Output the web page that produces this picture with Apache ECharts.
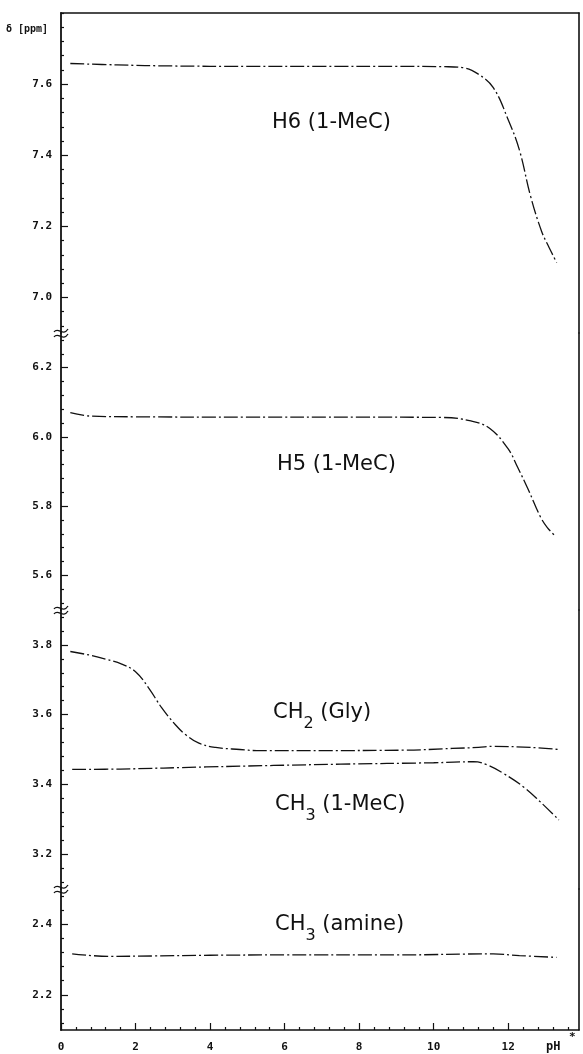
<!DOCTYPE html>
<html>
<head>
<meta charset="utf-8">
<title>Chemical shift vs pH*</title>
<script src="https://cdn.jsdelivr.net/npm/echarts@6.0.0/dist/echarts.min.js"></script>
<style>
html, body { margin: 0; padding: 0; background: #fff; }
#main { width: 583px; height: 1054px; }
</style>
</head>
<body>
<div id="main"></div>
<script>
// values (pH* -> delta in ppm)
var phH6 = [0.25, 1.5, 3, 5, 7, 9, 10.3, 10.8, 11.2, 11.6, 12.0, 12.3, 12.6, 12.9, 13.1, 13.3];
var shiftH6 = [7.658, 7.654, 7.651, 7.650, 7.650, 7.650, 7.649, 7.646, 7.628, 7.590, 7.500, 7.415, 7.285, 7.185, 7.140, 7.098];

var phH5 = [0.25, 0.8, 2, 5, 8, 10.25, 11.0, 11.5, 12.0, 12.25, 12.55, 12.87, 13.05, 13.28];
var shiftH5 = [6.070, 6.060, 6.058, 6.057, 6.057, 6.056, 6.046, 6.025, 5.965, 5.913, 5.845, 5.768, 5.738, 5.712];

var phGly = [0.25, 0.75, 1.2, 1.63, 2.0, 2.35, 2.7, 3.07, 3.35, 3.7, 4.15, 4.8, 5.25, 7.0, 9.2, 10.5, 11.2, 11.6, 12.6, 13.35];
var shiftGly = [3.781, 3.771, 3.759, 3.745, 3.723, 3.677, 3.620, 3.571, 3.542, 3.518, 3.506, 3.500, 3.497, 3.497, 3.498, 3.503, 3.506, 3.509, 3.506, 3.500];

var phMe = [0.3, 1.6, 3.9, 7.5, 10.0, 11.07, 11.43, 11.88, 12.42, 12.87, 13.36];
var shiftMe = [3.443, 3.444, 3.450, 3.458, 3.462, 3.465, 3.456, 3.431, 3.392, 3.349, 3.298];

var phAmine = [0.3, 1.3, 2.5, 4.0, 6.0, 9.0, 11.6, 12.3, 13.3];
var shiftAmine = [2.316, 2.309, 2.310, 2.312, 2.313, 2.313, 2.316, 2.311, 2.306];

// tick labels
var xTicks = [0, 2, 4, 6, 8, 10, 12];
var yTicksTop = [7.0, 7.2, 7.4, 7.6];
var yTicksH5 = [5.6, 5.8, 6.0, 6.2];
var yTicksMid = [3.2, 3.4, 3.6, 3.8];
var yTicksLow = [2.2, 2.4];

var xMax = 13.9;

// the four pieces of the broken y axis
var panels = [
    { top: 13, height: 320, min: 6.9, max: 7.8, ticks: yTicksTop },
    { top: 333, height: 277, min: 5.5, max: 6.3, ticks: yTicksH5 },
    { top: 610, height: 279, min: 3.1, max: 3.9, ticks: yTicksMid },
    { top: 889, height: 141, min: 2.1, max: 2.5, ticks: yTicksLow }
];

function minorValues(min, max, step, skip) {
    var out = [];
    var start = Math.ceil(min / step - 1e-6);
    for (var i = start; i * step <= max + 1e-6; i++) {
        var v = Math.round(i * step * 1000) / 1000;
        if (skip.indexOf(v) < 0) out.push(v);
    }
    return out;
}

function pairs(xs, ys) {
    return xs.map(function (x, i) { return [x, ys[i]]; });
}

var ink = '#111';
var tickFont = { fontFamily: 'DejaVu Sans Mono', fontWeight: 'bold', fontSize: 11, color: ink };

var grids = [], xAxes = [], yAxes = [];
panels.forEach(function (p, i) {
    grids.push({ left: 61, right: 4, top: p.top, height: p.height });
    var isTop = i === 0, isBottom = i === panels.length - 1;
    xAxes.push({
        type: 'value', gridIndex: i, min: 0, max: xMax,
        position: isBottom ? 'bottom' : 'top',
        axisLine: { show: isTop || isBottom, lineStyle: { color: ink, width: 1.6 } },
        axisTick: { show: isBottom, inside: true, length: 7, customValues: xTicks, lineStyle: { color: ink, width: 1.2 } },
        axisLabel: { show: isBottom, customValues: xTicks, margin: 12, textStyle: tickFont },
        splitLine: { show: false }
    });
    // left axis: major ticks and labels
    yAxes.push({
        type: 'value', gridIndex: i, min: p.min, max: p.max, position: 'left',
        axisLine: { show: true, lineStyle: { color: ink, width: 1.8 } },
        axisTick: { inside: true, length: 7, customValues: p.ticks, lineStyle: { color: ink, width: 1.2 } },
        axisLabel: {
            customValues: p.ticks, margin: 9,
            formatter: function (v) { return v.toFixed(1); },
            textStyle: tickFont
        },
        splitLine: { show: false }
    });
    // left axis: minor ticks
    yAxes.push({
        type: 'value', gridIndex: i, min: p.min, max: p.max, position: 'left',
        axisLine: { show: false },
        axisTick: { inside: true, length: 3, customValues: minorValues(p.min, p.max, 0.04, p.ticks), lineStyle: { color: ink, width: 1.2 } },
        axisLabel: { show: false },
        splitLine: { show: false }
    });
    // right frame line
    yAxes.push({
        type: 'value', gridIndex: i, min: p.min, max: p.max, position: 'right',
        axisLine: { show: true, lineStyle: { color: ink, width: 1.6 } },
        axisTick: { show: false }, axisLabel: { show: false }, splitLine: { show: false }
    });
});
// minor ticks on the pH axis
xAxes.push({
    type: 'value', gridIndex: 3, min: 0, max: xMax, position: 'bottom',
    axisLine: { show: false },
    axisTick: { inside: true, length: 3, customValues: minorValues(0, 13.6, 0.4, xTicks), lineStyle: { color: ink, width: 1.2 } },
    axisLabel: { show: false }, splitLine: { show: false }
});

var curveStyle = { color: ink, width: 1.3, type: [14, 3, 2, 3] };
function curve(name, panel, xs, ys) {
    return {
        name: name, type: 'line', xAxisIndex: panel, yAxisIndex: panel * 3,
        data: pairs(xs, ys), smooth: 0.4,
        showSymbol: false, silent: true, lineStyle: curveStyle
    };
}

var labelFont = '21px "DejaVu Sans"';
var subRich = {
    m: { fontSize: 21, fontFamily: 'DejaVu Sans', lineHeight: 21, verticalAlign: 'top', fill: ink },
    s: { fontSize: 16, fontFamily: 'DejaVu Sans', lineHeight: 29, verticalAlign: 'bottom', fill: ink }
};
function label(text, x, y, rich) {
    var st = { text: text, fill: ink, font: labelFont, align: 'left', verticalAlign: 'middle' };
    if (rich) st.rich = subRich;
    return { type: 'text', x: x, y: y, z: 10, style: st };
}
function breakMark(y) {
    return {
        type: 'group', x: 61, y: y, z: 20,
        children: [
            { type: 'rect', shape: { x: -3, y: -4, width: 6, height: 8 }, style: { fill: '#fff' } },
            { type: 'bezierCurve', shape: { x1: -7, y1: -1, cpx1: -3, cpy1: -7, cpx2: 2, cpy2: 4, x2: 7, y2: -4 }, style: { stroke: ink, lineWidth: 1.3, fill: null } },
            { type: 'bezierCurve', shape: { x1: -7, y1: 4, cpx1: -3, cpy1: -2, cpx2: 2, cpy2: 9, x2: 7, y2: 1 }, style: { stroke: ink, lineWidth: 1.3, fill: null } }
        ]
    };
}

var chart = echarts.init(document.getElementById('main'));
chart.setOption({
    animation: false,
    backgroundColor: '#fff',
    grid: grids,
    xAxis: xAxes,
    yAxis: yAxes,
    series: [
        curve('H6 (1-MeC)', 0, phH6, shiftH6),
        curve('H5 (1-MeC)', 1, phH5, shiftH5),
        curve('CH2 (Gly)', 2, phGly, shiftGly),
        curve('CH3 (1-MeC)', 2, phMe, shiftMe),
        curve('CH3 (amine)', 3, phAmine, shiftAmine)
    ],
    graphic: [
        { type: 'text', x: 6, y: 29, style: { text: 'δ [ppm]', fill: ink, font: 'bold 10px "DejaVu Sans Mono"', align: 'left', verticalAlign: 'middle' } },
        { type: 'text', x: 546, y: 1047, style: { text: 'pH', fill: ink, font: 'bold 12px "DejaVu Sans Mono"', align: 'left', verticalAlign: 'middle' } },
        { type: 'text', x: 569, y: 1037, style: { text: '*', fill: ink, font: 'bold 11px "DejaVu Sans Mono"', align: 'left', verticalAlign: 'middle' } },
        label('H6 (1-MeC)', 272, 123),
        label('H5 (1-MeC)', 277, 465),
        label('{m|CH}{s|2}{m| (Gly)}', 273, 717, true),
        label('{m|CH}{s|3}{m| (1-MeC)}', 275, 809, true),
        label('{m|CH}{s|3}{m| (amine)}', 275, 929, true),
        breakMark(333),
        breakMark(610),
        breakMark(889)
    ]
});
</script>
</body>
</html>
